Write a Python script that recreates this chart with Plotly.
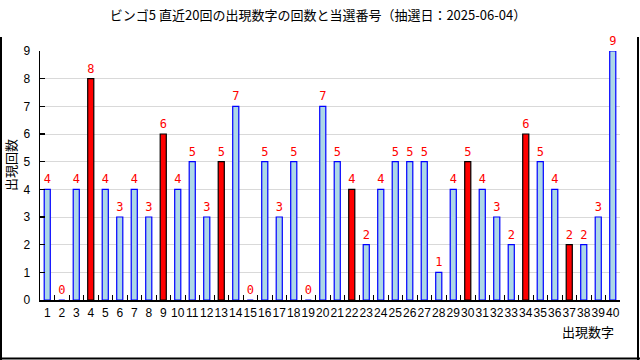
import plotly.graph_objects as go

numbers = list(range(1, 41))
counts = [4, 0, 4, 8, 4, 3, 4, 3, 6, 4,
          5, 3, 5, 7, 0, 5, 3, 5, 0, 7,
          5, 4, 2, 4, 5, 5, 5, 1, 4, 5,
          4, 3, 2, 6, 5, 4, 2, 2, 3, 9]
winning = [4, 9, 13, 22, 30, 34, 37]
y_ticks = list(range(0, 10))

title_text = "ビンゴ5 直近20回の出現数字の回数と当選番号（抽選日：2025-06-04）"
y_title = "出現回数"
x_title = "出現数字"

fill_colors = ["#ff0000" if n in winning else "#add8e6" for n in numbers]
line_colors = ["#000000" if n in winning else "#0000ff" for n in numbers]

L, R, T, B = 40, 20, 51, 60
W, H = 640, 360
pw, ph = W - L - R, H - T - B


def px(x):
    return (x - L) / pw


def py(y):
    return (H - B - y) / ph


fig = go.Figure()
fig.add_trace(go.Bar(
    x=numbers, y=counts, width=0.42,
    marker=dict(color=fill_colors, line=dict(color=line_colors, width=1.2)),
    text=[str(c) for c in counts], textposition="outside",
    textfont=dict(color="#ff0000", size=12, family="DejaVu Sans Mono"),
    cliponaxis=False, constraintext="none", showlegend=False, hoverinfo="skip",
))
# invisible trace to activate the tick overlay axis
fig.add_trace(go.Scatter(x=[0.5, 40.5], y=[0, 0], xaxis="x2", mode="markers",
                         marker=dict(opacity=0), showlegend=False, hoverinfo="skip"))

fig.update_layout(
    width=W, height=H,
    margin=dict(l=L, r=R, t=T, b=B),
    paper_bgcolor="white", plot_bgcolor="white",
    hovermode=False,
    font=dict(family="Liberation Sans, Noto Sans CJK JP", size=12, color="black"),
    title=dict(text=title_text, x=318 / W, xanchor="center", xref="container",
               y=1 - 15 / H, yanchor="middle", yref="container",
               font=dict(family="Noto Sans CJK JP", size=13, color="black")),
    bargap=0,
    xaxis=dict(range=[0.5, 40.5], tickvals=numbers, ticktext=[str(n) for n in numbers],
               tickangle=0, ticks="", showline=True, linecolor="black", linewidth=1.5,
               showgrid=False, zeroline=False, ticklabelstandoff=1,
               tickfont=dict(family="Liberation Sans", size=12, color="black"),
               fixedrange=True),
    xaxis2=dict(range=[0.5, 40.5], overlaying="x", anchor="y", side="bottom",
                tickvals=[n + 0.5 for n in numbers], ticks="inside", ticklen=5,
                tickcolor="black", tickwidth=1, showticklabels=False,
                showgrid=False, zeroline=False, showline=False, fixedrange=True),
    yaxis=dict(range=[0, 9], tickvals=y_ticks, ticks="inside", ticklen=5,
               tickcolor="black", tickwidth=1.5, showline=True, linecolor="black",
               linewidth=1.5, showgrid=True, gridcolor="#d9d9d9", gridwidth=1,
               zeroline=False, ticklabelstandoff=6, fixedrange=True,
               tickfont=dict(family="Liberation Sans", size=12, color="black")),
    annotations=[
        dict(text=y_title, xref="paper", yref="paper", x=px(10), y=py(165),
             xanchor="center", yanchor="middle", textangle=-90, showarrow=False,
             font=dict(family="Noto Sans CJK JP", size=13, color="black")),
        dict(text=x_title, xref="paper", yref="paper", x=px(616), y=py(331),
             xanchor="right", yanchor="middle", showarrow=False,
             font=dict(family="Noto Sans CJK JP", size=13, color="black")),
    ],
    shapes=[
        dict(type="line", xref="paper", yref="paper", x0=px(1), x1=px(1),
             y0=py(37), y1=py(360), line=dict(color="black", width=2)),
        dict(type="line", xref="paper", yref="paper", x0=px(638), x1=px(638),
             y0=py(37), y1=py(360), line=dict(color="black", width=2)),
        dict(type="line", xref="paper", yref="paper", x0=px(0), x1=px(640),
             y0=py(358.5), y1=py(358.5), line=dict(color="black", width=2)),
    ],
)

fig.write_html("out.html", config={"displayModeBar": False, "staticPlot": True},
               post_script="document.body.style.margin='0px';")
